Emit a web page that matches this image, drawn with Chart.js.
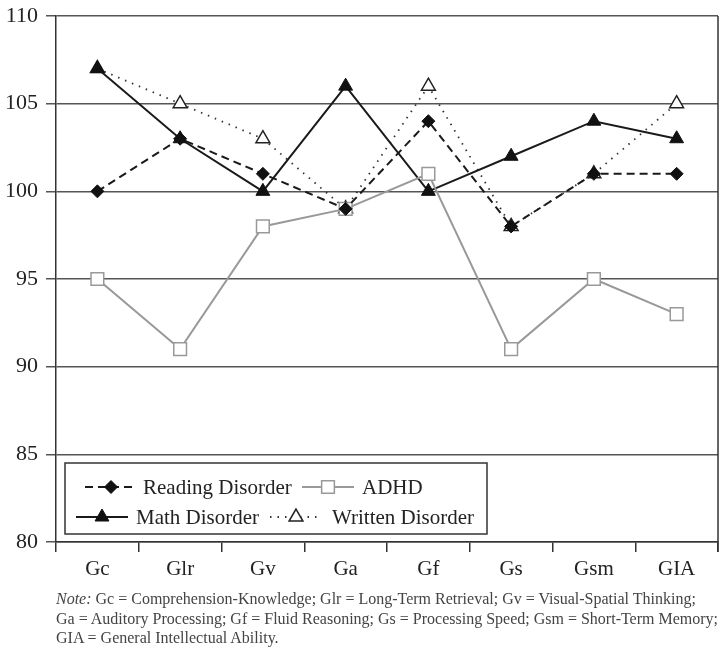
<!DOCTYPE html>
<html>
<head>
<meta charset="utf-8">
<script src="https://cdn.jsdelivr.net/npm/chart.js@4/dist/chart.umd.min.js"></script>
<style>
  body { margin: 0; background: #fff; }
  #wrap { position: relative; width: 721px; height: 648px; }
  #note {
    position: absolute; left: 56px; top: 589px; width: 665px;
    font-family: "Liberation Serif", serif; font-size: 16px; line-height: 19.5px; color: #444;
    white-space: nowrap;
  }
</style>
</head>
<body>
<div id="wrap">
  <canvas id="cogChart" width="721" height="590"></canvas>
  <div id="note"><i>Note:</i> Gc = Comprehension-Knowledge; Glr = Long-Term Retrieval; Gv = Visual-Spatial Thinking;<br>Ga = Auditory Processing; Gf = Fluid Reasoning; Gs = Processing Speed; Gsm = Short-Term Memory;<br>GIA = General Intellectual Ability.</div>
</div>
<script>
// categories and series values
const categories = ['Gc', 'Glr', 'Gv', 'Ga', 'Gf', 'Gs', 'Gsm', 'GIA'];
const readingDisorder = [100, 103, 101, 99, 104, 98, 101, 101];
const adhd = [95, 91, 98, 99, 101, 91, 95, 93];
const mathDisorder = [107, 103, 100, 106, 100, 102, 104, 103];
const writtenDisorder = [107, 105, 103, 99, 106, 98, 101, 105];
const yTicks = [80, 85, 90, 95, 100, 105, 110];

const serif = '"Liberation Serif", serif';

// right frame line + boxed legend with line samples
const framePlugin = {
    id: 'framePlugin',
    afterDatasetsDraw(chart) {
        const ctx = chart.ctx;
        const a = chart.chartArea;
        ctx.save();
        ctx.strokeStyle = '#333';
        ctx.lineWidth = 1.5;
        ctx.beginPath();
        ctx.moveTo(a.right, a.top);
        ctx.lineTo(a.right, a.bottom + 10);
        ctx.stroke();

        // legend box
        const bx = a.left + 9, by = a.bottom - 79, bw = 422, bh = 71;
        ctx.fillStyle = '#fff';
        ctx.fillRect(bx, by, bw, bh);
        ctx.strokeStyle = '#333';
        ctx.lineWidth = 1.5;
        ctx.strokeRect(bx, by, bw, bh);

        const items = [
            { x: a.left + 29, y: by + 24, text: 'Reading Disorder', ds: 0, gap: 58 },
            { x: a.left + 246, y: by + 24, text: 'ADHD', ds: 1, gap: 60 },
            { x: a.left + 20, y: by + 54, text: 'Math Disorder', ds: 2, gap: 60 },
            { x: a.left + 214, y: by + 54, text: 'Written Disorder', ds: 3, gap: 62 }
        ];
        items.forEach(it => {
            const d = chart.data.datasets[it.ds];
            ctx.save();
            ctx.strokeStyle = d.borderColor;
            ctx.lineWidth = d.borderWidth;
            ctx.setLineDash(d.borderDash || []);
            ctx.beginPath();
            ctx.moveTo(it.x, it.y);
            ctx.lineTo(it.x + 52, it.y);
            ctx.stroke();
            ctx.setLineDash([]);
            ctx.fillStyle = d.pointBackgroundColor;
            ctx.strokeStyle = d.pointBorderColor;
            ctx.lineWidth = d.pointBorderWidth;
            Chart.helpers.drawPoint(ctx, {
                pointStyle: d.pointStyle,
                radius: d.pointRadius,
                borderWidth: d.pointBorderWidth
            }, it.x + 26, it.y);
            ctx.fillStyle = '#222';
            ctx.font = '21px ' + serif;
            ctx.textBaseline = 'middle';
            ctx.fillText(it.text, it.x + it.gap, it.y + 1);
            ctx.restore();
        });
        ctx.restore();
    }
};

new Chart(document.getElementById('cogChart'), {
    type: 'line',
    data: {
        labels: categories,
        datasets: [
            {
                label: 'Reading Disorder',
                data: readingDisorder,
                borderColor: '#1a1a1a',
                borderWidth: 2,
                borderDash: [8, 5],
                pointStyle: 'rectRot',
                pointRadius: 6.5,
                pointBackgroundColor: '#111',
                pointBorderColor: '#111',
                pointBorderWidth: 1
            },
            {
                label: 'ADHD',
                data: adhd,
                borderColor: '#999',
                borderWidth: 2,
                pointStyle: 'rect',
                pointRadius: 9,
                pointBackgroundColor: '#fff',
                pointBorderColor: '#999',
                pointBorderWidth: 1.5
            },
            {
                label: 'Math Disorder',
                data: mathDisorder,
                borderColor: '#1a1a1a',
                borderWidth: 2,
                pointStyle: 'triangle',
                pointRadius: 8,
                pointBackgroundColor: '#111',
                pointBorderColor: '#111',
                pointBorderWidth: 1
            },
            {
                label: 'Written Disorder',
                data: writtenDisorder,
                borderColor: '#333',
                borderWidth: 1.8,
                borderDash: [1.5, 6],
                pointStyle: 'triangle',
                pointRadius: 8,
                pointBackgroundColor: '#fff',
                pointBorderColor: '#222',
                pointBorderWidth: 1.5
            }
        ]
    },
    options: {
        responsive: false,
        animation: false,
        layout: { autoPadding: false, padding: { top: 16, right: 3, left: 0, bottom: 0 } },
        plugins: {
            legend: { display: false },
            tooltip: { enabled: false }
        },
        scales: {
            x: {
                offset: true,
                grid: {
                    offset: true,
                    drawOnChartArea: false,
                    drawTicks: true,
                    tickLength: 10,
                    color: '#333',
                    lineWidth: 1.5
                },
                border: { color: '#333', width: 1.5 },
                ticks: {
                    color: '#222',
                    font: { family: serif, size: 21 },
                    padding: 5,
                    maxRotation: 0
                },
                afterFit: axis => {
                    axis.height = 48;
                    axis.paddingLeft = 0;
                    axis.paddingRight = 0;
                }
            },
            y: {
                min: 80,
                max: 110,
                afterBuildTicks: axis => { axis.ticks = yTicks.map(v => ({ value: v })); },
                grid: {
                    color: '#555',
                    lineWidth: 1.5,
                    tickLength: 10
                },
                border: { color: '#333', width: 1.5 },
                ticks: {
                    color: '#222',
                    font: { family: serif, size: 22 },
                    padding: 8
                },
                afterFit: axis => {
                    axis.width = 56;
                    axis.paddingTop = 0;
                    axis.paddingBottom = 0;
                }
            }
        }
    },
    plugins: [framePlugin]
});
</script>
</body>
</html>
